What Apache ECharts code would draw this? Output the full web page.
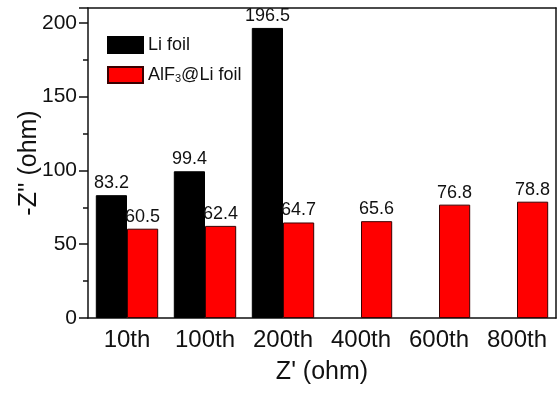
<!DOCTYPE html>
<html>
<head>
<meta charset="utf-8">
<script src="https://cdn.jsdelivr.net/npm/echarts@6/dist/echarts.min.js"></script>
<style>
  html, body { margin: 0; padding: 0; background: #fff; }
  #chart { width: 557px; height: 397px; }
</style>
</head>
<body>
<div id="chart"></div>
<script>
const cycles = ["10th", "100th", "200th", "400th", "600th", "800th"];
const liFoil = [83.2, 99.4, 196.5, null, null, null];
const alfFoil = [60.5, 62.4, 64.7, 65.6, 76.8, 78.8];

const font = "Liberation Sans, Arial, sans-serif";
const dark = "#111";

const barLabel = {
  show: true,
  position: "top",
  distance: 3,
  color: dark,
  fontFamily: font,
  fontSize: 18,
};

const option = {
  animation: false,
  backgroundColor: "#fff",
  textStyle: { fontFamily: font },
  grid: { left: 88, top: 8, right: 1, bottom: 79 },
  legend: {
    orient: "vertical",
    left: 102,
    top: 31,
    itemWidth: 35,
    itemHeight: 16,
    itemGap: 7,
    icon: "rect",
    textStyle: {
      fontFamily: font,
      fontSize: 18,
      color: dark,
      lineHeight: 18,
      rich: { sub: { fontSize: 11, verticalAlign: "bottom", padding: [12, 0, 0, 0], lineHeight: 11, fontFamily: font, color: dark } },
    },
    formatter: (name) => (name === "AlF3@Li foil" ? "AlF{sub|3}@Li foil" : name),
    data: ["Li foil", "AlF3@Li foil"],
  },
  xAxis: [
    {
      type: "category",
      data: cycles,
      position: "bottom",
      axisLine: { lineStyle: { color: dark, width: 1.5 } },
      axisTick: { alignWithLabel: true, length: 6, lineStyle: { color: dark, width: 1.5 } },
      axisLabel: { color: dark, fontSize: 24, margin: 10, interval: 0, fontFamily: font },
      name: "Z' (ohm)",
      nameLocation: "middle",
      nameGap: 42,
      nameMoveOverlap: false,
      nameTextStyle: { color: dark, fontSize: 25, fontFamily: font },
    },
    {
      type: "category",
      data: cycles,
      position: "bottom",
      axisLine: { show: false },
      axisTick: { length: 4, interval: 0, lineStyle: { color: dark, width: 1.5 } },
      axisLabel: { show: false },
    },
    {
      type: "category",
      data: cycles,
      position: "top",
      axisLine: { lineStyle: { color: dark, width: 1.5 } },
      axisTick: { inside: true, length: 5, interval: 0, lineStyle: { color: dark, width: 1.5 } },
      axisLabel: { show: false },
    },
  ],
  yAxis: [
    {
      type: "value",
      min: 0,
      max: 210,
      interval: 50,
      axisLine: { show: true, lineStyle: { color: dark, width: 1.5 } },
      axisTick: { show: true, length: 9, lineStyle: { color: dark, width: 1.5 } },
      minorTick: { show: true, splitNumber: 2, length: 5, lineStyle: { color: dark, width: 1.5 } },
      splitLine: { show: false },
      axisLabel: {
        color: dark,
        fontSize: 21,
        margin: 11,
        fontFamily: font,
        showMaxLabel: false,
        formatter: (v) => (v % 50 === 0 ? String(v) : ""),
      },
      name: "-Z'' (ohm)",
      nameLocation: "middle",
      nameGap: 46,
      nameMoveOverlap: false,
      nameTextStyle: { color: dark, fontSize: 25, fontFamily: font },
    },
    {
      type: "value",
      position: "right",
      min: 0,
      max: 210,
      axisLine: { show: true, lineStyle: { color: dark, width: 1.5 } },
      axisTick: { show: false },
      axisLabel: { show: false },
      splitLine: { show: false },
    },
  ],
  series: [
    {
      name: "Li foil",
      type: "bar",
      data: liFoil,
      barGap: "0%",
      barCategoryGap: "20%",
      itemStyle: { color: "#000", borderColor: "#000", borderWidth: 1 },
      label: barLabel,
    },
    {
      name: "AlF3@Li foil",
      type: "bar",
      data: alfFoil,
      barGap: "0%",
      barCategoryGap: "20%",
      itemStyle: { color: "#ff0000", borderColor: "#3a0000", borderWidth: 1 },
      label: barLabel,
    },
  ],
};

echarts.init(document.getElementById("chart")).setOption(option);
</script>
</body>
</html>
